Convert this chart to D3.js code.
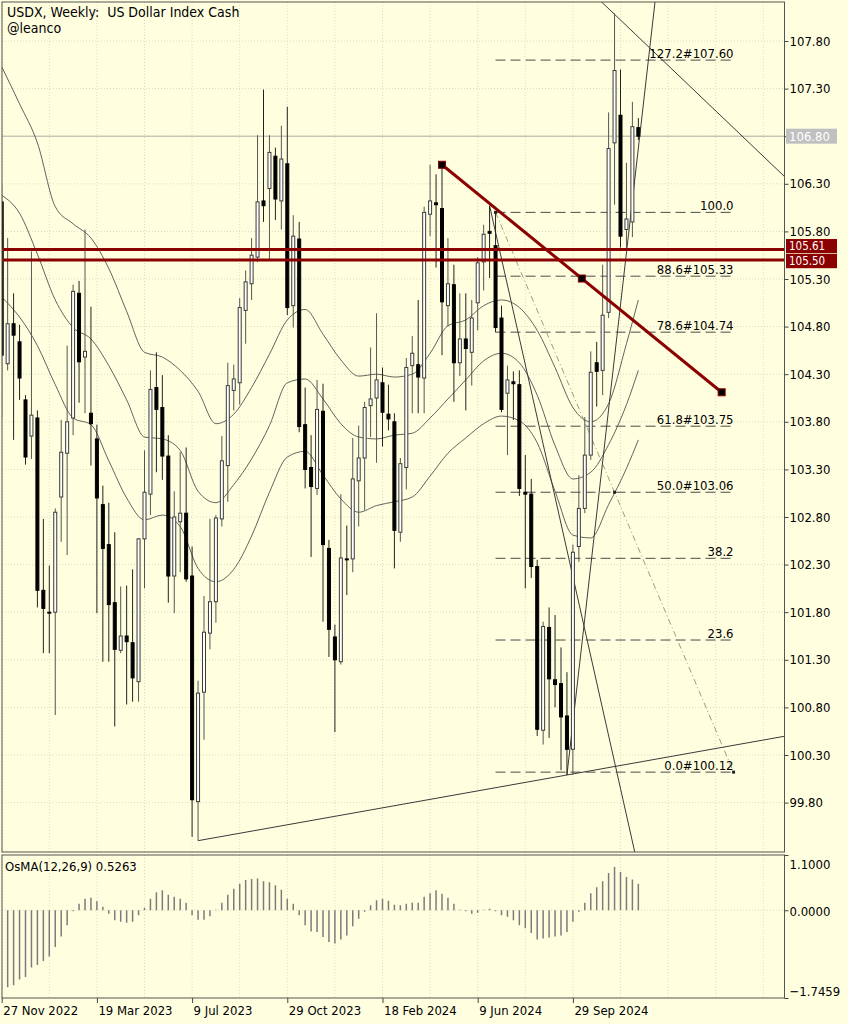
<!DOCTYPE html>
<html><head><meta charset="utf-8">
<script src="https://cdn.jsdelivr.net/npm/d3@7"></script>
<style>
html,body{margin:0;padding:0;background:#ffffe0;}
svg{display:block;}
text{font-family:"DejaVu Sans Condensed","DejaVu Sans",sans-serif;font-stretch:condensed;font-size:13px;fill:#000;}
</style></head><body><svg id="c" width="848" height="1024"></svg>
<script>
// ---------- DATA ----------
const opens=[106.11,104.41,104.83,104.64,104.03,103.65,103.84,102.03,101.80,101.80,
103.01,103.47,103.84,105.15,104.48,103.89,103.62,102.93,102.51,101.90,
101.40,101.55,101.48,101.07,102.57,103.04,104.16,103.95,103.44,102.18,
102.75,102.84,102.18,99.81,100.96,101.58,101.91,102.78,103.34,104.13,
104.21,104.97,105.25,105.53,106.12,106.25,106.59,106.12,106.51,105.02,
105.72,103.77,103.32,103.10,103.91,102.47,101.54,101.28,102.36,102.36,
103.18,103.42,103.97,104.05,104.21,103.88,103.80,102.64,103.32,104.39,
104.40,104.26,105.98,106.10,106.04,105.02,105.24,104.42,104.67,104.53,
105.05,105.48,105.80,105.65,104.89,104.10,104.22,104.19,103.06,103.04,
102.28,100.56,101.64,101.09,101.05,100.71,100.36,102.49,102.89,103.45,
104.42,104.34,104.95,106.73,107.02,105.82,105.90,106.89];
const highs=[106.29,105.73,105.15,104.82,104.08,105.59,103.92,102.78,102.29,102.89,
103.82,104.60,105.24,105.28,105.82,105.01,103.77,103.13,102.95,102.64,
102.07,102.08,102.25,102.58,103.50,104.34,104.53,104.29,103.66,103.07,
103.48,103.53,102.49,101.08,101.97,102.78,102.82,103.65,104.42,104.40,
105.10,105.39,105.73,106.81,107.29,106.81,106.68,106.91,107.11,105.97,
105.90,104.16,103.66,104.24,104.20,102.56,101.67,103.04,102.71,103.63,
103.76,104.01,104.58,104.94,104.37,104.19,103.89,103.42,104.47,104.70,
105.08,106.06,106.50,106.40,106.50,105.73,105.45,105.15,105.15,105.08,
105.53,105.87,106.07,106.00,105.02,104.39,104.33,104.34,103.45,103.20,
102.35,101.70,101.85,101.77,101.43,101.17,102.51,103.24,103.85,104.54,
104.64,105.45,107.05,108.09,107.50,106.52,107.16,106.99];
const lows=[103.85,104.34,103.61,104.03,103.35,103.41,101.85,101.37,101.37,100.72,
102.54,102.40,103.66,104.00,103.89,103.34,101.79,101.28,101.28,100.60,
101.37,100.83,100.86,100.86,102.05,102.82,103.27,103.19,101.90,101.79,
102.22,102.12,99.44,99.40,100.46,101.41,101.69,102.70,102.96,103.92,
103.98,104.62,105.08,105.48,105.90,105.50,105.92,105.82,104.92,104.79,
103.69,103.10,102.38,103.03,101.70,101.33,100.54,101.25,101.98,102.22,
102.70,102.87,103.64,103.37,103.54,103.71,102.26,102.54,103.09,103.89,
103.89,103.89,105.75,105.42,104.50,104.80,104.01,104.28,103.92,104.18,
104.76,105.18,105.31,104.74,103.90,103.45,103.82,103.02,102.05,102.16,
100.50,100.41,100.48,100.80,100.14,100.09,100.09,102.33,102.84,103.40,
103.96,104.08,104.89,106.08,105.63,105.58,105.74,106.76];
const closes=[104.50,104.83,104.71,104.26,103.43,103.87,102.03,101.84,101.79,102.85,
103.48,103.80,105.17,104.43,104.54,103.78,103.00,102.47,101.88,101.41,
101.55,101.49,101.11,102.57,103.06,104.14,103.93,103.44,102.18,102.80,
102.84,102.15,99.83,100.95,101.59,101.91,102.79,103.39,104.18,104.25,
105.00,105.27,105.55,106.11,106.07,106.63,106.14,106.56,105.00,105.75,
103.75,103.30,103.12,103.93,102.51,101.62,101.30,102.37,102.35,103.20,
103.42,103.95,104.04,104.24,103.90,103.83,102.66,103.36,104.37,104.52,
104.27,106.00,106.12,106.08,105.06,105.25,104.42,104.67,104.57,104.89,
105.47,105.77,105.78,104.79,103.93,104.24,104.20,103.10,103.04,102.28,
100.57,101.65,101.10,101.04,100.70,100.36,102.43,102.89,103.45,104.32,
104.33,104.92,106.67,107.49,105.75,105.93,106.90,106.80];

// envelope curves, sampled every 3 weeks
const envBars=[0,3,6,9,12,15,18,21,24,27,30,33,36,39,42,45,48,51,54,57,60,63,66,69,72,75,78,81,84,87,90,93,96,99,102,105,107];
const envUpper=[107.53,107.14,106.73,106.06,105.88,105.73,105.41,104.96,104.53,104.48,104.34,104.12,103.78,103.88,104.16,104.51,104.87,104.98,104.72,104.45,104.28,104.30,104.27,104.30,104.52,104.81,104.87,105.02,105.08,105.00,104.76,104.37,103.95,103.80,103.99,104.62,105.08];
const envMiddle=[106.18,105.99,105.56,105.08,104.79,104.67,104.39,104.03,103.64,103.62,103.50,103.07,102.95,103.14,103.41,103.76,104.21,104.25,104.04,103.78,103.64,103.62,103.66,103.68,103.84,104.04,104.24,104.44,104.52,104.42,104.08,103.55,103.20,103.27,103.56,103.98,104.34];
const envLower=[105.11,104.90,104.60,104.19,103.84,103.77,103.39,103.00,102.77,102.82,102.70,102.26,102.12,102.25,102.60,103.06,103.43,103.49,103.24,102.99,102.85,102.92,102.96,103.01,103.23,103.47,103.63,103.78,103.86,103.81,103.58,103.07,102.61,102.58,102.93,103.31,103.61];

const osma=[null,-1.53,-1.49,-1.38,-1.33,-1.14,-1.09,-1.01,-0.92,-0.73,
-0.52,-0.30,-0.02,0.13,0.23,0.25,0.18,0.07,-0.07,-0.20,
-0.23,-0.25,-0.23,-0.10,0.05,0.23,0.36,0.40,0.31,0.27,
0.23,0.15,-0.10,-0.19,-0.19,-0.12,0.01,0.15,0.31,0.43,
0.53,0.60,0.62,0.63,0.58,0.56,0.50,0.41,0.23,0.13,
-0.10,-0.30,-0.42,-0.43,-0.53,-0.63,-0.66,-0.58,-0.50,-0.32,
-0.17,-0.03,0.10,0.20,0.23,0.19,0.11,0.10,0.13,0.15,
0.15,0.27,0.34,0.40,0.33,0.25,0.13,0.01,-0.02,-0.07,
-0.05,0.01,0.03,-0.02,-0.10,-0.13,-0.20,-0.30,-0.36,-0.45,
-0.58,-0.56,-0.54,-0.52,-0.50,-0.43,-0.23,-0.03,0.15,0.34,
0.46,0.58,0.74,0.86,0.76,0.66,0.61,0.5263];

const priceTicks=[107.80,107.30,106.80,106.30,105.80,105.30,104.80,104.30,103.80,103.30,102.80,102.30,101.80,101.30,100.80,100.30,99.80];
const dateTickBars=[0,16,32,48,64,80,96];
const dateLabels=["27 Nov 2022","19 Mar 2023","9 Jul 2023","29 Oct 2023","18 Feb 2024","9 Jun 2024","29 Sep 2024"];
const osmaTicks=[1.1,0,-1.7459];

const hLevels=[105.61,105.50];
const redBars=[74,121], redPrices=[106.50,104.11];
const fibBars=[83,123], fibPrices=[106.00,100.12];
const fibLevels=[127.2,100,88.6,78.6,61.8,50,38.2,23.6,0];
const fibLabels=["127.2#107.60","100.0","88.6#105.33","78.6#104.74","61.8#103.75","50.0#103.06","38.2","23.6","0.0#100.12"];
// trend lines: [bar1, price1, bar2, price2, type]
const trendA=[82,106.07,106.4,99.28,"ray"];
const trendB=[33,99.40,95,100.09,"ray"];
const trendC=[95,100.09,109.8,108.21,"ray"];
const trendD=[103,108.08,131.5,106.38,"line"];

const title="USDX, Weekly:  US Dollar Index Cash";
const subtitle="@leanco";
const osmaLabel="OsMA(12,26,9) 0.5263";

// ---------- LAYOUT ----------
const PL=2, PR=784.5, PT=2, PB=852, OT=855, OB=998;
const svg=d3.select("#c");
const x=d3.scaleLinear().domain([0,96]).range([1.7,572.9]);
const y=d3.scaleLinear().domain([99.8,107.8]).range([802.6,41]);
const yo=d3.scaleLinear().domain([-1.7459,1.1]).range([OB,OT]);

svg.append("rect").attr("width",848).attr("height",1024).attr("fill","#ffffe0");
const defs=svg.append("defs");
defs.append("clipPath").attr("id","cm").append("rect").attr("x",PL).attr("y",PT).attr("width",PR-PL).attr("height",PB-PT);
defs.append("clipPath").attr("id","co").append("rect").attr("x",PL).attr("y",OT).attr("width",PR-PL).attr("height",OB-OT);

// grid
const gridX=d3.range(0,132,8);
const grid=svg.append("g").attr("stroke","#dcdcc0").attr("stroke-width",1).attr("stroke-dasharray","1,2");
gridX.forEach(b=>{
  grid.append("line").attr("x1",x(b)).attr("x2",x(b)).attr("y1",PT).attr("y2",PB);
  grid.append("line").attr("x1",x(b)).attr("x2",x(b)).attr("y1",OT).attr("y2",OB);
});
priceTicks.forEach(p=>grid.append("line").attr("x1",PL).attr("x2",PR).attr("y1",y(p)).attr("y2",y(p)));
grid.append("line").attr("x1",PL).attr("x2",PR).attr("y1",yo(0)).attr("y2",yo(0));

const main=svg.append("g").attr("clip-path","url(#cm)");

// current price line
main.append("line").attr("x1",PL).attr("x2",PR).attr("y1",y(closes[closes.length-1])).attr("y2",y(closes[closes.length-1])).attr("stroke","#aeaea4").attr("stroke-width",1);

// envelopes
const envLine=d3.line().x((d)=>x(d[0])).y(d=>y(d[1])).curve(d3.curveMonotoneX);
[envUpper,envMiddle,envLower].forEach(arr=>{
  main.append("path").attr("d",envLine(envBars.map((b,i)=>[b,arr[i]]))).attr("fill","none").attr("stroke","#505050").attr("stroke-width",0.9);
});

// fib levels
const fibP=l=>fibPrices[1]+(fibPrices[0]-fibPrices[1])*l/100;
fibLevels.forEach((l,i)=>{
  const yy=y(fibP(l));
  main.append("line").attr("x1",x(fibBars[0])).attr("x2",x(fibBars[1])).attr("y1",yy).attr("y2",yy)
    .attr("stroke","#4a4a4a").attr("stroke-width",1).attr("stroke-dasharray","10,5");
});
// fib diagonal
main.append("line").attr("x1",x(fibBars[0])).attr("y1",y(fibPrices[0])).attr("x2",x(fibBars[1])).attr("y2",y(fibPrices[1]))
  .attr("stroke","#94a07c").attr("stroke-width",1).attr("stroke-dasharray","6,3,1,3");

// trend lines
function drawTrend(t){
  const p1=[x(t[0]),y(t[1])], p2=[x(t[2]),y(t[3])];
  const d=[p2[0]-p1[0],p2[1]-p1[1]];
  const s=t[4]==="ray"?p1:[p1[0]-d[0]*40,p1[1]-d[1]*40];
  const e=[p1[0]+d[0]*40,p1[1]+d[1]*40];
  main.append("line").attr("x1",s[0]).attr("y1",s[1]).attr("x2",e[0]).attr("y2",e[1]).attr("stroke","#3a3a3a").attr("stroke-width",1);
}
[trendA,trendB,trendC,trendD].forEach(drawTrend);

// candles
const cg=main.append("g");
opens.forEach((o,i)=>{
  const c=closes[i], cx=x(i);
  const bull=c>=o;
  cg.append("line").attr("x1",cx).attr("x2",cx).attr("y1",y(highs[i])).attr("y2",y(lows[i]))
    .attr("stroke",bull?"#555":"#222").attr("stroke-width",1);
  const top=y(Math.max(o,c)), h=Math.max(0.8,Math.abs(y(o)-y(c)));
  cg.append("rect").attr("x",cx-1.5).attr("y",top).attr("width",3).attr("height",h)
    .attr("fill",bull?"#ffffff":"#000000").attr("stroke",bull?"#3a3a3a":"#000").attr("stroke-width",1);
});

// horizontal red levels
hLevels.forEach(p=>{
  main.append("line").attr("x1",PL).attr("x2",PR).attr("y1",y(p)).attr("y2",y(p)).attr("stroke","#8b0000").attr("stroke-width",3);
});
// red trendline
main.append("line").attr("x1",x(redBars[0])).attr("y1",y(redPrices[0])).attr("x2",x(redBars[1])).attr("y2",y(redPrices[1]))
  .attr("stroke","#8b0000").attr("stroke-width",3);
const redMid=[(redBars[0]+redBars[1])/2,(redPrices[0]+redPrices[1])/2];
[[redBars[0],redPrices[0]],redMid,[redBars[1],redPrices[1]]].forEach(p=>{
  main.append("rect").attr("x",x(p[0])-3.5).attr("y",y(p[1])-3.5).attr("width",7).attr("height",7)
    .attr("fill","#000").attr("stroke","#8b0000").attr("stroke-width",1);
});
// fib handles
[[fibBars[0],fibPrices[0]],[(fibBars[0]+fibBars[1])/2,(fibPrices[0]+fibPrices[1])/2],[fibBars[1],fibPrices[1]]].forEach(p=>{
  main.append("rect").attr("x",x(p[0])-1.5).attr("y",y(p[1])-1.5).attr("width",3).attr("height",3).attr("fill","#222");
});
// fib labels
fibLevels.forEach((l,i)=>{
  main.append("text").attr("x",x(fibBars[1])).attr("y",y(fibP(l))-2.5).attr("text-anchor","end").text(fibLabels[i]);
});

// title
svg.append("text").attr("x",7).attr("y",17).style("white-space","pre").style("font-size","14px").text(title);
svg.append("text").attr("x",7).attr("y",33).style("font-size","14px").text(subtitle);

// OsMA
const og=svg.append("g").attr("clip-path","url(#co)");
osma.forEach((v,i)=>{
  if(v===null) return;
  og.append("line").attr("x1",x(i)).attr("x2",x(i)).attr("y1",yo(0)).attr("y2",yo(v)).attr("stroke","#7c7c7c").attr("stroke-width",1.5);
});
svg.append("text").attr("x",5).attr("y",871).text(osmaLabel);

// frames
svg.append("rect").attr("x",PL).attr("y",PT).attr("width",PR-PL).attr("height",PB-PT).attr("fill","none").attr("stroke","#555").attr("stroke-width",1);
svg.append("rect").attr("x",PL).attr("y",OT).attr("width",PR-PL).attr("height",OB-OT).attr("fill","none").attr("stroke","#555").attr("stroke-width",1);

// axes
function styleAxis(g){
  g.attr("font-family",null).attr("font-size",null);
  g.select(".domain").remove();
  g.selectAll(".tick line").attr("stroke","#444");
}
const ay=svg.append("g").attr("transform",`translate(${PR},0)`)
  .call(d3.axisRight(y).tickValues(priceTicks).tickSize(4).tickPadding(1).tickFormat(d3.format(".2f")));
styleAxis(ay);
const ao=svg.append("g").attr("transform",`translate(${PR},0)`)
  .call(d3.axisRight(yo).tickValues(osmaTicks).tickSize(4).tickPadding(1).tickFormat(d3.format(".4f")));
styleAxis(ao);
ao.selectAll(".tick text").attr("dy",d=>d===osmaTicks[0]?"1.05em":(d===osmaTicks[2]?"-0.2em":"0.4em"));
const ax=svg.append("g").attr("transform",`translate(0,${OB})`)
  .call(d3.axisBottom(x).tickValues(dateTickBars).tickSize(5).tickFormat((d,i)=>dateLabels[i]));
styleAxis(ax);
ax.selectAll(".tick text").attr("text-anchor","start").attr("x",1).attr("y",8);

// right labels
function priceBox(p,fill,txt,off,h,fs){
  const g=svg.append("g");
  const cy=y(p)+off;
  g.append("rect").attr("x",786).attr("y",cy-h/2).attr("width",51).attr("height",h).attr("fill",fill);
  g.append("text").attr("x",789).attr("y",cy).attr("dy","0.36em").style("fill","#fff").style("font-size",fs+"px").text(txt);
}
priceBox(closes[closes.length-1],"#c0c0c0",d3.format(".2f")(closes[closes.length-1]),0,15,13);
priceBox(hLevels[0],"#8b0000",d3.format(".2f")(hLevels[0]),-3.5,14,11.5);
priceBox(hLevels[1],"#8b0000",d3.format(".2f")(hLevels[1]),1,14.5,11.5);
</script></body></html>
